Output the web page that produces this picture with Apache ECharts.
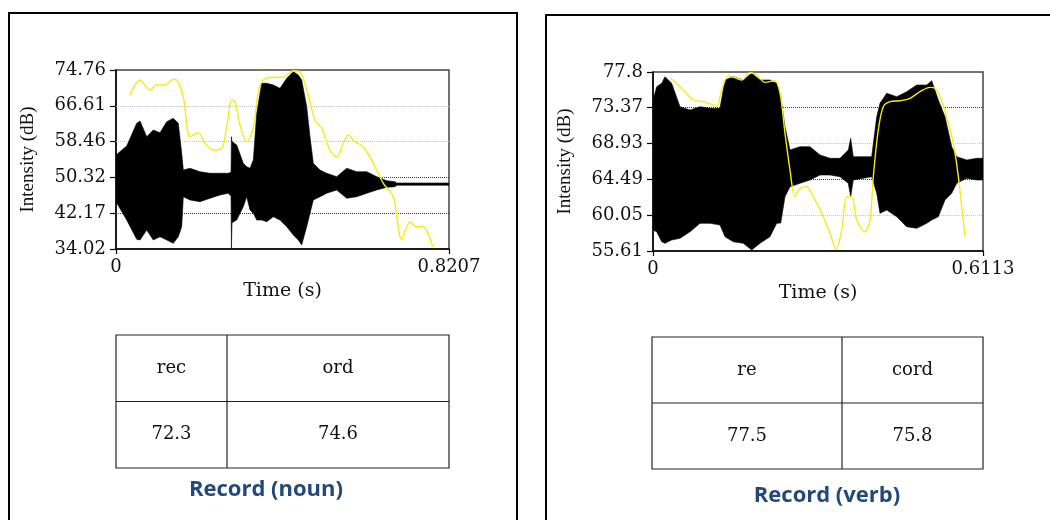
<!DOCTYPE html>
<html><head><meta charset="utf-8">
<script src="https://cdn.jsdelivr.net/npm/echarts@6/dist/echarts.min.js"></script>
<style>html,body{margin:0;padding:0;background:#fff}#c{width:1050px;height:520px}</style>
</head><body><div id="c"></div>
<script>
// ---------- Panel 1: Record (noun) ----------
const yTicks1 = [34.02, 42.17, 50.32, 58.46, 66.61, 74.76];
const xTicks1 = [0, 0.8207];
const darkLines1 = [50.32, 42.17];
const lightLines1 = [66.61, 58.46];
// waveform envelope (time s, upper dB, lower dB)
const wave1T = [0, 0.0264, 0.0510, 0.0592, 0.0757, 0.0919, 0.1084, 0.1250, 0.1412, 0.1535, 0.1619, 0.1659, 0.1824, 0.2070, 0.2317, 0.2563, 0.2768, 0.2835, 0.2845, 0.2860, 0.2975, 0.3137, 0.3221, 0.3303, 0.3384, 0.3468, 0.3591, 0.3714, 0.3877, 0.4042, 0.4207, 0.4370, 0.4493, 0.4577, 0.4700, 0.4781, 0.4863, 0.5028, 0.5193, 0.5439, 0.5686, 0.5932, 0.6179, 0.6425, 0.6672, 0.6876, 0.6918, 0.8207];
const wave1Top = [55.41, 57.46, 62.63, 63.15, 59.58, 61.10, 60.49, 62.99, 63.77, 62.63, 55.87, 52.00, 52.39, 51.61, 51.25, 51.25, 51.25, 51.5, 59.58, 58.5, 57.69, 53.52, 52.75, 52.39, 54.28, 64.90, 71.73, 71.73, 71.35, 70.59, 72.87, 74.37, 73.62, 72.48, 66.41, 59.58, 53.52, 52.00, 51.25, 50.48, 52.39, 51.61, 51.61, 50.48, 49.56, 49.34, 49.04, 49.04];
const wave1Bot = [44.79, 40.62, 36.23, 36.07, 38.34, 36.07, 36.82, 36.07, 35.32, 36.82, 39.09, 45.92, 45.17, 44.79, 45.56, 46.31, 46.70, 46.0, 34.25, 40.0, 40.62, 43.65, 45.92, 42.90, 42.14, 40.62, 40.62, 40.23, 41.37, 40.62, 39.09, 37.21, 36.07, 34.93, 39.09, 42.14, 45.17, 45.92, 46.70, 47.45, 45.56, 45.92, 46.70, 47.45, 48.06, 48.20, 48.52, 48.52];
// intensity contour (yellow)
const int1T = [0.0345, 0.0592, 0.0838, 0.1003, 0.1208, 0.1412, 0.1496, 0.1659, 0.1824, 0.2028, 0.2193, 0.2398, 0.2605, 0.2728, 0.2852, 0.2933, 0.3056, 0.3221, 0.3384, 0.3507, 0.3630, 0.3877, 0.4123, 0.4370, 0.4535, 0.4700, 0.4905, 0.5070, 0.5274, 0.5439, 0.5602, 0.5725, 0.5890, 0.6095, 0.6341, 0.6588, 0.6834, 0.7041, 0.7246, 0.7411, 0.7574, 0.7805];
const int1V = [69.07, 72.48, 70.21, 71.35, 71.35, 72.64, 72.48, 68.68, 59.58, 60.49, 58.08, 56.55, 56.94, 61.85, 67.93, 67.55, 62.24, 58.44, 61.56, 69.75, 72.48, 73.10, 73.10, 74.60, 74.37, 70.21, 63.38, 61.49, 56.55, 54.89, 58.08, 59.97, 58.44, 57.30, 53.52, 48.97, 45.92, 36.23, 40.23, 39.09, 39.09, 34.54];
const syllables1 = ['rec', 'ord'];
const peaks1 = [72.3, 74.6];
const caption1 = 'Record (noun)';

// ---------- Panel 2: Record (verb) ----------
const yTicks2 = [55.61, 60.05, 64.49, 68.93, 73.37, 77.8];
const xTicks2 = [0, 0.6113];
const darkLines2 = [73.37, 64.49];
const lightLines2 = [68.93, 60.05];
const wave2T = [0, 0.0069, 0.0161, 0.0222, 0.0346, 0.0500, 0.0685, 0.0871, 0.1056, 0.1241, 0.1334, 0.1487, 0.1673, 0.1828, 0.1982, 0.2167, 0.2291, 0.2366, 0.2445, 0.2538, 0.2723, 0.2908, 0.3094, 0.3279, 0.3464, 0.3618, 0.3662, 0.3710, 0.3896, 0.4051, 0.4144, 0.4205, 0.4329, 0.4514, 0.4700, 0.4885, 0.5070, 0.5163, 0.5285, 0.5409, 0.5533, 0.5626, 0.5811, 0.5996, 0.6113];
const wave2Top = [74.33, 75.98, 76.40, 77.22, 76.40, 73.50, 73.09, 73.50, 73.30, 73.30, 76.81, 77.22, 76.81, 77.64, 76.81, 76.81, 76.40, 74.74, 71.02, 68.13, 68.54, 68.54, 67.51, 67.10, 67.10, 68.13, 69.58, 67.30, 67.30, 67.30, 72.26, 73.92, 75.16, 74.74, 75.36, 76.19, 76.19, 76.72, 74.33, 72.26, 68.54, 67.30, 66.89, 67.10, 67.10];
const wave2Bot = [58.21, 57.99, 56.76, 56.56, 56.97, 57.18, 57.99, 59.04, 59.04, 58.83, 57.38, 56.76, 56.56, 55.73, 56.56, 57.38, 59.04, 59.08, 62.34, 63.58, 64.00, 64.41, 65.03, 65.03, 64.82, 64.00, 62.34, 64.41, 64.62, 64.82, 62.76, 60.28, 60.69, 59.86, 58.62, 58.42, 59.04, 59.45, 59.86, 61.93, 62.76, 64.00, 64.62, 64.41, 64.41];
const int2T = [0.0328, 0.0500, 0.0747, 0.0932, 0.1117, 0.1180, 0.1273, 0.1395, 0.1550, 0.1643, 0.1797, 0.1921, 0.2075, 0.2260, 0.2353, 0.2445, 0.2538, 0.2630, 0.2723, 0.2847, 0.2969, 0.3155, 0.3279, 0.3390, 0.3496, 0.3588, 0.3681, 0.3773, 0.3927, 0.4020, 0.4081, 0.4173, 0.4266, 0.4390, 0.4575, 0.4761, 0.4946, 0.5131, 0.5224, 0.5316, 0.5440, 0.5563, 0.5656, 0.5779];
const int2V = [77.02, 75.98, 74.33, 74.12, 73.71, 73.50, 75.57, 77.30, 77.02, 76.81, 77.71, 77.43, 76.52, 76.72, 75.20, 70.20, 65.65, 62.34, 63.38, 63.58, 62.34, 59.86, 57.80, 55.86, 58.21, 62.34, 62.34, 59.45, 57.99, 59.45, 64.82, 70.61, 73.50, 74.12, 74.24, 74.54, 75.36, 75.90, 75.78, 74.74, 72.26, 68.96, 64.82, 57.38];
const syllables2 = ['re', 'cord'];
const peaks2 = [77.5, 75.8];
const caption2 = 'Record (verb)';

const SERIF = 'DejaVu Serif';
const TXT = '#111';
const YELLOW = '#f7ea16';
const BLUE = '#22497a';

function zip(a, b, c) { return a.map((v, i) => c ? [v, b[i], c[i]] : [v, b[i]]); }

function xAxisCfg(g, ticks) {
  return {
    gridIndex: g, type: 'value', min: ticks[0], max: ticks[ticks.length - 1],
    axisLine: { show: true, lineStyle: { color: '#000', width: 1.5 } },
    axisTick: { show: true, customValues: ticks, length: 5, lineStyle: { color: '#000', width: 1.2 } },
    axisLabel: { customValues: ticks, showMinLabel: true, showMaxLabel: true, fontFamily: SERIF, fontSize: 18, color: TXT, margin: 9, formatter: v => String(v) },
    splitLine: { show: false },
    name: 'Time (s)', nameLocation: 'middle', nameGap: 33,
    nameTextStyle: { fontFamily: SERIF, fontSize: 19, color: TXT }
  };
}
function yAxisCfg(g, ticks) {
  return {
    gridIndex: g, type: 'value', min: ticks[0], max: ticks[ticks.length - 1],
    axisLine: { show: true, lineStyle: { color: '#000', width: 1.5 } },
    axisTick: { show: true, customValues: ticks, length: 6, lineStyle: { color: '#000', width: 1.2 } },
    axisLabel: { customValues: ticks, showMinLabel: true, showMaxLabel: true, fontFamily: SERIF, fontSize: 18, color: TXT, margin: 10, formatter: v => String(v) },
    splitLine: { show: false },
    name: 'Intensity (dB)', nameLocation: 'middle', nameGap: 78,
    nameTextStyle: { fontFamily: 'Liberation Serif', fontSize: 19, color: TXT }
  };
}
function waveSeries(g, data, dark, light) {
  return {
    type: 'custom', xAxisIndex: g, yAxisIndex: g, z: 3, silent: true, clip: true,
    data: data,
    encode: { x: 0, y: [1, 2] },
    renderItem: function (params, api) {
      if (params.dataIndex !== 0) return null;
      const up = data.map(d => api.coord([d[0], d[1]]));
      const dn = data.map(d => api.coord([d[0], d[2]])).reverse();
      return { type: 'polygon', shape: { points: up.concat(dn) }, style: { fill: '#000', stroke: '#000', lineWidth: 0.6 } };
    },
    markLine: {
      silent: true, symbol: 'none', z: 1, animation: false,
      label: { show: false },
      data: dark.map(v => ({ yAxis: v, lineStyle: { type: 'dotted', color: '#333', width: 1 } }))
        .concat(light.map(v => ({ yAxis: v, lineStyle: { type: 'dotted', color: '#c4c4c4', width: 1 } })))
    }
  };
}
function intensitySeries(g, data) {
  return {
    type: 'line', xAxisIndex: g, yAxisIndex: g, z: 5, data: data, smooth: 0.3,
    symbol: 'none', silent: true, clip: true,
    lineStyle: { color: YELLOW, width: 1.4 }
  };
}
function tableGraphics(x, y, w, h, splitX, heads, vals) {
  const els = [];
  const ls = { stroke: '#222', lineWidth: 1.2 };
  els.push({ type: 'rect', shape: { x: x, y: y, width: w, height: h }, style: { fill: 'none', stroke: '#222', lineWidth: 1.2 } });
  els.push({ type: 'line', shape: { x1: x, y1: y + h / 2, x2: x + w, y2: y + h / 2 }, style: ls });
  els.push({ type: 'line', shape: { x1: splitX, y1: y, x2: splitX, y2: y + h }, style: ls });
  const cx = [(x + splitX) / 2, (splitX + x + w) / 2];
  heads.forEach((t, i) => els.push({ type: 'text', style: { text: t, x: cx[i], y: y + h / 4, align: 'center', verticalAlign: 'middle', font: '18px "' + SERIF + '"', fill: TXT } }));
  vals.forEach((v, i) => els.push({ type: 'text', style: { text: v.toFixed(1), x: cx[i], y: y + 3 * h / 4, align: 'center', verticalAlign: 'middle', font: '18px "' + SERIF + '"', fill: TXT } }));
  return els;
}

const graphics = [
  { type: 'rect', shape: { x: 9, y: 13, width: 508, height: 530 }, style: { fill: 'none', stroke: '#000', lineWidth: 2 } },
  { type: 'rect', shape: { x: 546, y: 15, width: 530, height: 530 }, style: { fill: 'none', stroke: '#000', lineWidth: 2 } },
  ...tableGraphics(116, 335, 333, 133, 227, syllables1, peaks1),
  ...tableGraphics(652, 337, 331, 132, 842, syllables2, peaks2),
  { type: 'text', style: { text: caption1, x: 266, y: 490, align: 'center', verticalAlign: 'middle', font: 'bold 22px "Open Sans"', fill: BLUE } },
  { type: 'text', style: { text: caption2, x: 827, y: 496, align: 'center', verticalAlign: 'middle', font: 'bold 22px "Open Sans"', fill: BLUE } }
];

const chart = echarts.init(document.getElementById('c'), null, { renderer: 'canvas' });
chart.setOption({
  animation: false,
  backgroundColor: '#fff',
  grid: [
    { left: 116, top: 70, width: 333, height: 179, show: true, borderColor: '#444', borderWidth: 1.5, backgroundColor: 'transparent' },
    { left: 653, top: 72, width: 330, height: 179, show: true, borderColor: '#444', borderWidth: 1.5, backgroundColor: 'transparent' }
  ],
  xAxis: [xAxisCfg(0, xTicks1), xAxisCfg(1, xTicks2)],
  yAxis: [yAxisCfg(0, yTicks1), yAxisCfg(1, yTicks2)],
  series: [
    waveSeries(0, zip(wave1T, wave1Top, wave1Bot), darkLines1, lightLines1),
    intensitySeries(0, zip(int1T, int1V)),
    waveSeries(1, zip(wave2T, wave2Top, wave2Bot), darkLines2, lightLines2),
    intensitySeries(1, zip(int2T, int2V))
  ],
  graphic: graphics
});
</script></body></html>
